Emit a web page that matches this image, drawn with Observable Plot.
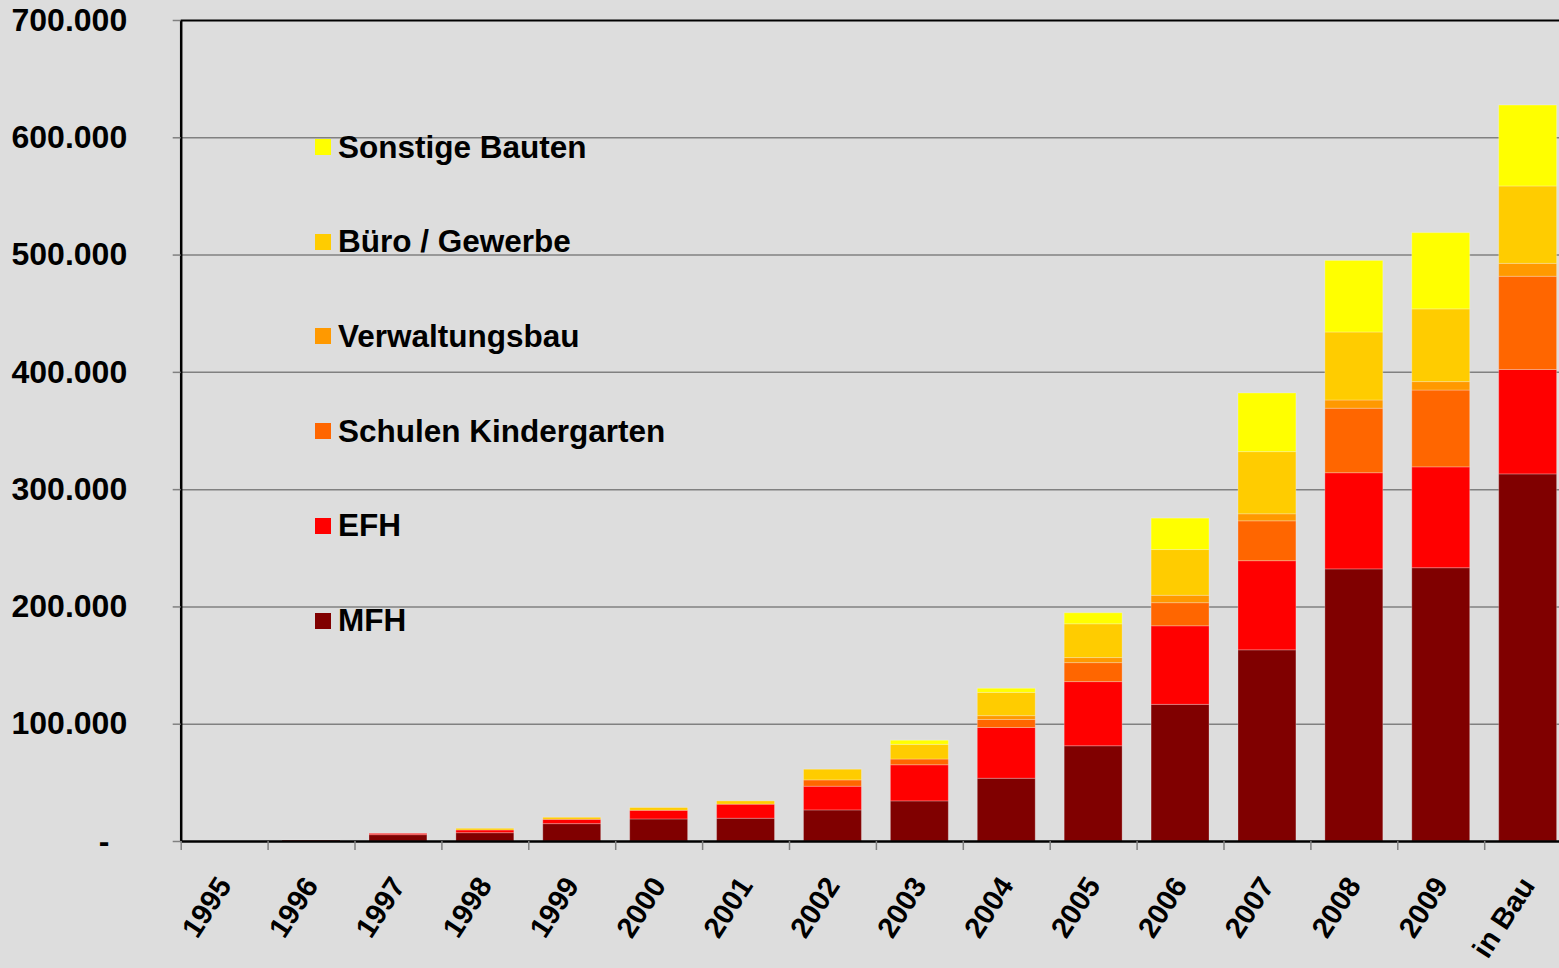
<!DOCTYPE html>
<html><head><meta charset="utf-8">
<script src="https://cdn.jsdelivr.net/npm/d3@7"></script>
<script src="https://cdn.jsdelivr.net/npm/@observablehq/plot@0.6"></script>
<style>
html,body{margin:0;padding:0;background:#dddddd;overflow:hidden}
#wrap{position:relative;width:1559px;height:968px;font-family:"Liberation Sans",Arial,sans-serif}
.leg{position:absolute;left:315px;display:flex;align-items:center;height:32px;font-weight:bold;font-size:31.5px;color:#000;white-space:nowrap}
.leg i{display:inline-block;width:16px;height:16px;margin-right:7px}
</style></head><body><div id="wrap"></div>
<script>
const years = ["1995","1996","1997","1998","1999","2000","2001","2002","2003","2004","2005","2006","2007","2008","2009","in Bau"];
const seriesNames = ["MFH","EFH","Schulen Kindergarten","Verwaltungsbau","Büro / Gewerbe","Sonstige Bauten"];
const seriesColors = ["#800000","#ff0000","#ff6600","#ff9900","#ffcc00","#ffff00"];
const MFH      = [0, 800, 5400, 7100, 14800, 18800, 19400, 26500, 34200, 53500, 81200, 116500, 163000, 232000, 233000, 313000];
const EFH      = [0, 0, 1100, 2300, 3700, 7400, 12000, 20200, 30800, 43300, 54700, 67000, 76000, 82000, 86000, 89000];
const Schulen  = [0, 0, 0, 0, 0, 0, 0, 5400, 4900, 6800, 16200, 19700, 34000, 55000, 65500, 79500];
const Verwaltung = [0, 0, 0, 0, 0, 0, 0, 0, 0, 3300, 4300, 6300, 6000, 7000, 7200, 11000];
const Buero    = [0, 0, 0, 1400, 1700, 2300, 2800, 9100, 12500, 19800, 28800, 39000, 53000, 58000, 62000, 66000];
const Sonstige = [0, 0, 0, 0, 0, 0, 0, 0, 3500, 3500, 9400, 26800, 50000, 61000, 65000, 69000];
const yTicks = [0, 100000, 200000, 300000, 400000, 500000, 600000, 700000];
const gridTicks = [100000, 200000, 300000, 400000, 500000, 600000];

const seriesValues = [MFH, EFH, Schulen, Verwaltung, Buero, Sonstige];
const rows = [];
years.forEach((yr, i) => seriesValues.forEach((vals, s) => rows.push({year: yr, series: seriesNames[s], value: vals[i]})));

const W = 1559, H = 968, mL = 180.7, mR = -12.1, mT = 20, mB = 127;
const step = (W - mL - mR) / years.length;
const fmt = v => v === 0 ? "-\u00a0\u00a0" : v.toLocaleString("de-DE");

const chart = Plot.plot({
  width: W, height: H,
  marginLeft: mL, marginRight: mR, marginTop: mT, marginBottom: mB,
  style: {background: "#dddddd", fontFamily: "'Liberation Sans', Arial, sans-serif", overflow: "visible"},
  x: {domain: years, paddingInner: 1/3, paddingOuter: 1/6, round: false, label: null},
  y: {domain: [0, 700000], label: null},
  color: {domain: seriesNames, range: seriesColors},
  marks: [
    Plot.ruleY(gridTicks, {stroke: "#808080", strokeWidth: 1.5}),
    Plot.barY(rows, {x: "year", y: "value", fill: "series", stroke: "#ffffff", strokeOpacity: 0.25, strokeWidth: 1}),
    Plot.ruleY([700000], {stroke: "#000", strokeWidth: 2}),
    Plot.ruleY([0], {stroke: "#000", strokeWidth: 2.5}),
    Plot.ruleX([years[0]], {x: d => d, y1: 0, y2: 700000, dx: -step/2, stroke: "#000", strokeWidth: 2.5}),
    Plot.ruleX(years, {x: d => d, y1: 0, y2: 0, insetBottom: -9, dx: -step/2, stroke: "#808080", strokeWidth: 1.5}),
    Plot.axisY({ticks: yTicks, tickSize: 8, tickFormat: () => "", stroke: "#808080", strokeWidth: 1.5, label: null}),
    Plot.axisY({ticks: yTicks, tickSize: 0, tickPadding: 54, tickFormat: fmt, fontSize: 32, fontWeight: "bold", fill: "#000", label: null}),
    Plot.axisX({tickSize: 0, tickRotate: -57, tickPadding: 39, fontSize: 29, fontWeight: "bold", fill: "#000", label: null})
  ]
});
const wrap = document.getElementById("wrap");
wrap.appendChild(chart);

const legendRowTop = 147, legendRowStep = 94.7;
for (let k = 0; k < seriesNames.length; k++) {
  const s = seriesNames.length - 1 - k;
  const d = document.createElement("div");
  d.className = "leg";
  d.style.top = (legendRowTop + k * legendRowStep - 16) + "px";
  const sw = document.createElement("i");
  sw.style.background = seriesColors[s];
  d.appendChild(sw);
  d.appendChild(document.createTextNode(seriesNames[s]));
  wrap.appendChild(d);
}
</script>
</body></html>
